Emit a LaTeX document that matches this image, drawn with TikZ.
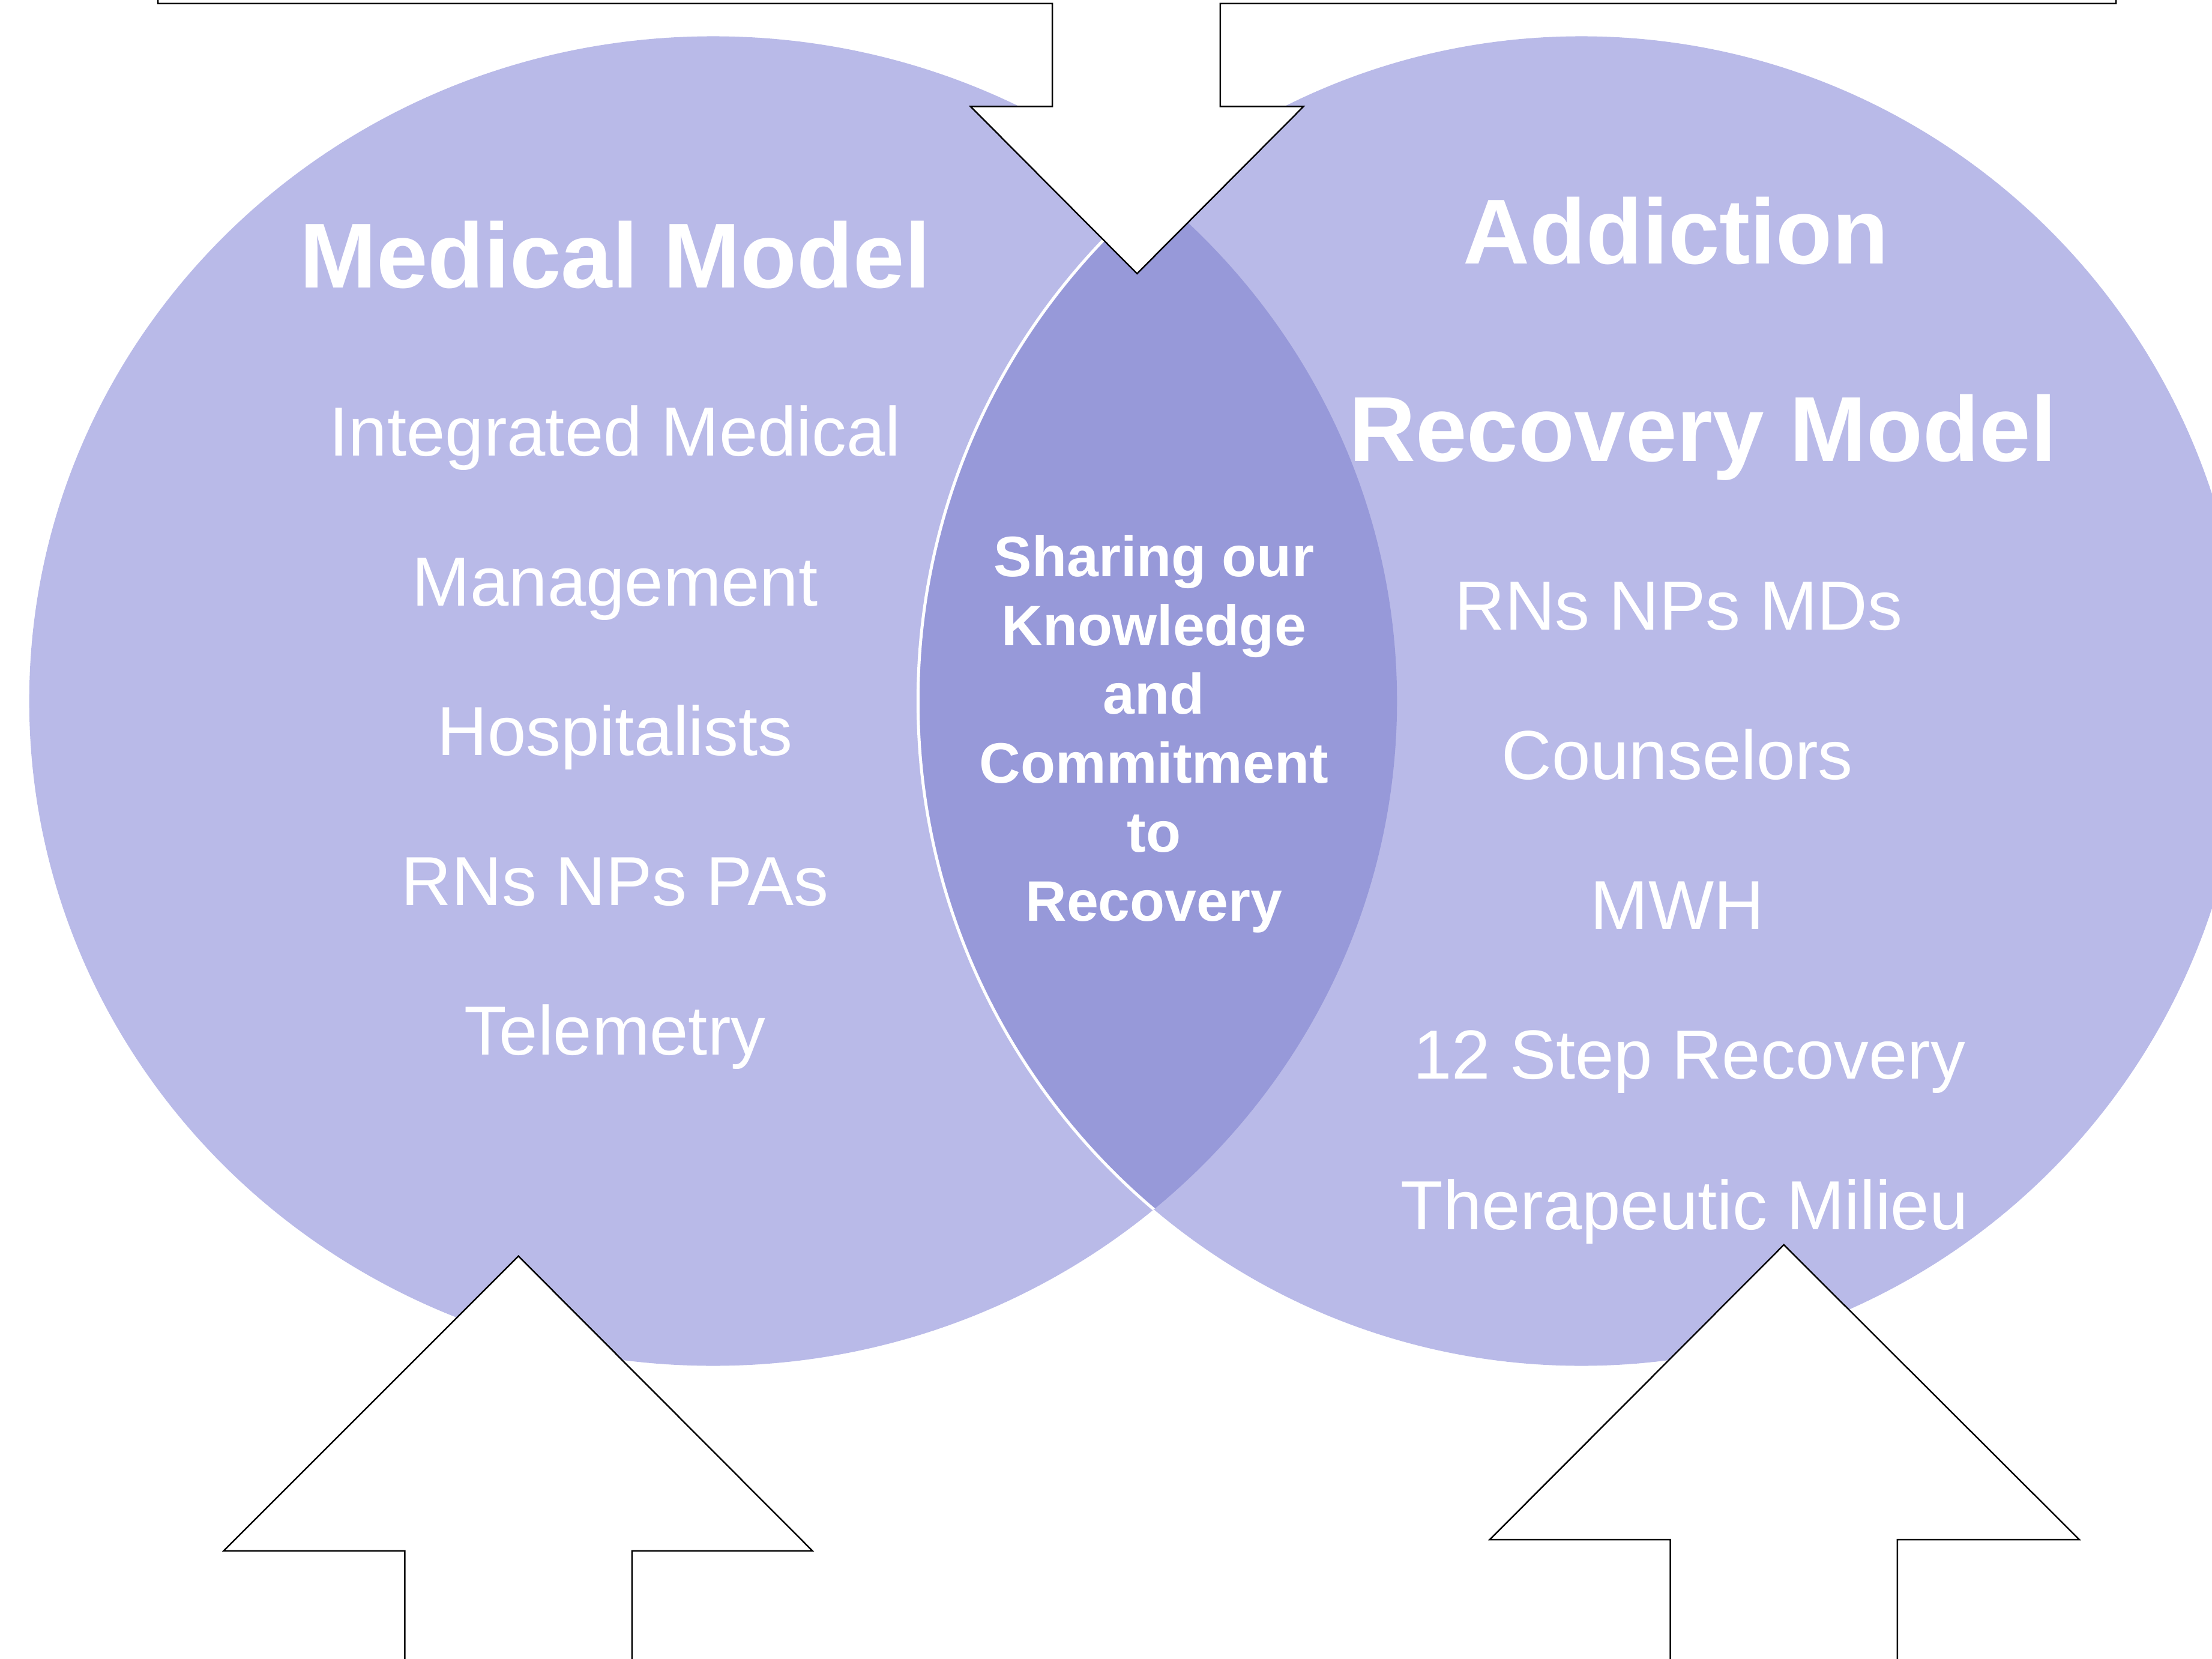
\documentclass[tikz,border=0pt]{standalone}
\usepackage{fontspec}
\setmainfont{Liberation Sans}
\usepackage{tikz}
\usetikzlibrary{shapes.geometric}
\definecolor{vennblue}{RGB}{185,186,232}
\definecolor{lensblue}{RGB}{151,153,217}
\tikzset{
	venn/.style={ellipse, fill=vennblue, draw=none, inner sep=0pt},
	bigarrow/.style={draw=black, fill=white, line width=0.3pt, line join=miter},
	title/.style={text=white, anchor=base, inner sep=0pt, font=\fontsize{18.6}{22}\selectfont\bfseries},
	item/.style={text=white, anchor=base, inner sep=0pt, font=\fontsize{14}{17}\selectfont},
	share/.style={text=white, anchor=base, inner sep=0pt, font=\fontsize{11.5}{14}\selectfont\bfseries}
}

\begin{document}
\begin{tikzpicture}[x=0.01cm,y=-0.01cm]
		\useasboundingbox (0,0) rectangle (1568,1176);
		\clip (0,0) rectangle (1568,1176);

		\node[venn, minimum width=9.69cm, minimum height=9.42cm] at (505.5,497) (medical) {};
		\node[venn, minimum width=9.40cm, minimum height=9.42cm] at (1121,497) (addiction) {};
		\begin{scope}
			\clip (medical.center) ellipse [x radius=4.845cm, y radius=4.71cm];
			\fill[lensblue] (addiction.center) ellipse [x radius=4.70cm, y radius=4.71cm];
			\draw[white, line width=0.6pt] (addiction.center) ellipse [x radius=4.70cm, y radius=4.71cm];
		\end{scope}

		\node[title] at (436,204) (medtitle) {Medical Model};
		\node[item] at (436,323) (med1) {Integrated Medical};
		\node[item] at (436,429.5) (med2) {Management};
		\node[item] at (436,535.5) (med3) {Hospitalists};
		\node[item] at (436,642) (med4) {RNs NPs PAs};
		\node[item] at (436,748) (med5) {Telemetry};

		\node[title] at (1188,187) (addtitle) {Addiction};
		\node[title] at (1207,327) (rectitle) {Recovery Model};
		\node[item] at (1190,446.5) (add1) {RNs NPs MDs};
		\node[item] at (1189,552.5) (add2) {Counselors};
		\node[item] at (1189,659) (add3) {MWH};
		\node[item] at (1197.5,765) (add4) {12 Step Recovery};
		\node[item] at (1194,871.5) (add5) {Therapeutic Milieu};

		\node[share] at (818,408.5) (share1) {Sharing our};
		\node[share] at (818,457.5) (share2) {Knowledge};
		\node[share] at (818,506) (share3) {and};
		\node[share] at (818,555) (share4) {Commitment};
		\node[share] at (818,604) (share5) {to};
		\node[share] at (818,653) (share6) {Recovery};

		% arrows
		\draw[bigarrow] (112,-20) -- (112,2.5) -- (746,2.5) -- (746,75.5) -- (688,75.5) -- (806,194)
			-- (924,75.5) -- (865,75.5) -- (865,2.5) -- (1500,2.5) -- (1500,-20);
		\draw[bigarrow] (287,1200) -- (287,1099.5) -- (158.5,1099.5) -- (367.5,890.5) -- (576,1099.5)
			-- (448,1099.5) -- (448,1200);
		\draw[bigarrow] (1184,1200) -- (1184,1091.5) -- (1056,1091.5) -- (1264.5,882.5) -- (1474,1091.5)
			-- (1345,1091.5) -- (1345,1200);

	\end{tikzpicture}
\end{document}
